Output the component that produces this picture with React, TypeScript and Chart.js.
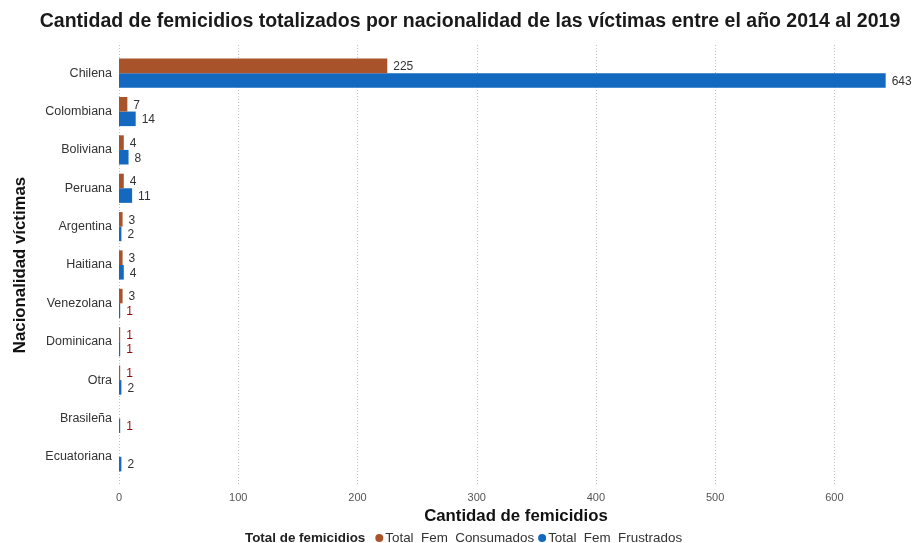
import React, { useEffect, useRef } from 'react';
import { Chart, registerables } from 'chart.js';

Chart.register(...registerables);

const chartTitle = 'Cantidad de femicidios totalizados por nacionalidad de las víctimas entre el año 2014 al 2019';
const xTitle = 'Cantidad de femicidios';
const yTitle = 'Nacionalidad víctimas';
const legendTitle = 'Total de femicidios';
const categories = ['Chilena', 'Colombiana', 'Boliviana', 'Peruana', 'Argentina', 'Haitiana', 'Venezolana', 'Dominicana', 'Otra', 'Brasileña', 'Ecuatoriana'];
const consumados: (number | null)[] = [225, 7, 4, 4, 3, 3, 3, 1, 1, null, null];
const frustrados: (number | null)[] = [643, 14, 8, 11, 2, 4, 1, 1, 2, 1, 2];
const seriesNames = ['Total  Fem  Consumados', 'Total  Fem  Frustrados'];
const seriesColors = ['#A9532A', '#1269BF'];
const xTickValues = [0, 100, 200, 300, 400, 500, 600];

const FONT = "'Liberation Sans', Arial, Helvetica, sans-serif";

const decor = {
  id: 'decor',
  beforeDatasetsDraw(chart: any) {
    const { ctx, chartArea, scales } = chart;
    const x = scales.x;
    ctx.save();
    ctx.strokeStyle = '#c2c2c2';
    ctx.lineWidth = 1;
    ctx.setLineDash([1, 2]);
    x.ticks.forEach((t: any) => {
      const px = Math.round(x.getPixelForValue(t.value)) + 0.5;
      ctx.beginPath();
      ctx.moveTo(px, chartArea.top - 9);
      ctx.lineTo(px, chartArea.bottom + 9);
      ctx.stroke();
    });
    ctx.restore();
  },
  afterDatasetsDraw(chart: any) {
    const { ctx } = chart;
    ctx.save();
    ctx.font = `12px ${FONT}`;
    ctx.textAlign = 'left';
    ctx.textBaseline = 'middle';
    chart.data.datasets.forEach((ds: any, di: number) => {
      const meta = chart.getDatasetMeta(di);
      meta.data.forEach((el: any, i: number) => {
        const v = ds.data[i];
        if (v === null || v === undefined) return;
        ctx.fillStyle = v === 1 ? '#8B0A0A' : '#333333';
        ctx.fillText(String(v), el.x + 6, el.y + 1);
      });
    });
    ctx.restore();
  },
  afterDraw(chart: any) {
    const { ctx } = chart;
    ctx.save();
    // title
    ctx.font = `bold 19.5px ${FONT}`;
    ctx.fillStyle = '#1a1a1a';
    ctx.textAlign = 'center';
    ctx.textBaseline = 'middle';
    ctx.fillText(chartTitle, 470, 22);
    // x axis title
    ctx.font = `bold 16.8px ${FONT}`;
    ctx.fillStyle = '#111';
    ctx.fillText(xTitle, 516, 516);
    // y axis title
    ctx.save();
    ctx.translate(20, 265);
    ctx.rotate(-Math.PI / 2);
    ctx.font = `bold 16.8px ${FONT}`;
    ctx.fillText(yTitle, 0, 0);
    ctx.restore();
    // legend
    const y = 538;
    let x = 245;
    ctx.textAlign = 'left';
    ctx.font = `bold 13.4px ${FONT}`;
    ctx.fillStyle = '#222';
    ctx.fillText(legendTitle, x, y);
    x += ctx.measureText(legendTitle).width + 10;
    ctx.font = `13.4px ${FONT}`;
    seriesNames.forEach((name, i) => {
      ctx.fillStyle = seriesColors[i];
      ctx.beginPath();
      ctx.arc(x + 4, y, 4, 0, Math.PI * 2);
      ctx.fill();
      x += 10;
      ctx.fillStyle = '#333';
      ctx.fillText(name, x, y);
      x += ctx.measureText(name).width + 4;
    });
    ctx.restore();
  },
};

export default function App() {
  const ref = useRef<HTMLCanvasElement | null>(null);
  useEffect(() => {
    if (!ref.current) return;
    const chart = new Chart(ref.current, {
      type: 'bar',
      data: {
        labels: categories,
        datasets: [
          { label: seriesNames[0], data: consumados, backgroundColor: seriesColors[0], categoryPercentage: 0.76, barPercentage: 1 },
          { label: seriesNames[1], data: frustrados, backgroundColor: seriesColors[1], categoryPercentage: 0.76, barPercentage: 1 },
        ] as any,
      },
      options: {
        indexAxis: 'y',
        animation: false,
        responsive: false,
        layout: { padding: { top: 54, left: 7, right: 20, bottom: 13 } },
        plugins: {
          legend: { display: false },
          title: { display: false },
          tooltip: { enabled: false },
        },
        scales: {
          x: {
            type: 'linear',
            min: 0,
            max: 650,
            afterBuildTicks: (s: any) => {
              s.ticks = xTickValues.map((v) => ({ value: v }));
            },
            afterFit: (s: any) => { s.height = 54; },
            ticks: { font: { size: 11, family: FONT }, color: '#555', padding: 15 },
            grid: { display: false, drawTicks: false },
            border: { display: false },
            title: { display: false },
          },
          y: {
            type: 'category',
            grid: { display: false, drawTicks: false },
            border: { display: false },
            ticks: { font: { size: 12.5, family: FONT }, color: '#333', padding: 7 },
            afterFit: (s: any) => { s.width = 112; },
            title: { display: false },
          },
        },
      } as any,
      plugins: [decor],
    });
    return () => chart.destroy();
  }, []);
  return (
    <div style={{ position: 'absolute', left: 0, top: 0, width: 914, height: 543, background: '#fff' }}>
      <canvas ref={ref} width={914} height={543} />
    </div>
  );
}
